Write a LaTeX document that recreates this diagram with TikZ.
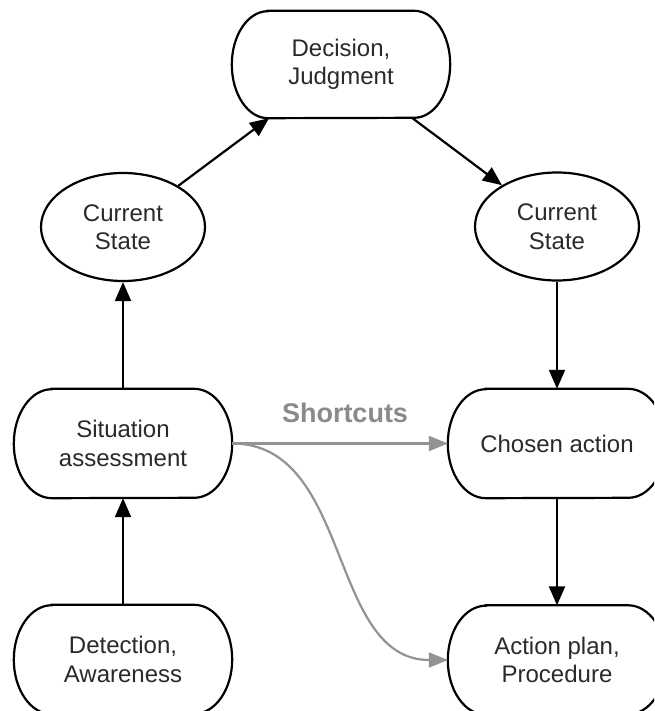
\documentclass[tikz,border=0pt]{standalone}
\usepackage{fontspec}
\setmainfont{Liberation Sans}
\usetikzlibrary{arrows.meta,shapes.geometric}

\definecolor{ink}{HTML}{2A2A2A}
\definecolor{shortgray}{HTML}{939393}
\definecolor{labelgray}{HTML}{8A8A8A}

\tikzset{
  txt/.style={font=\fontsize{24}{28.5}\selectfont, text=ink, align=center, inner sep=0pt},
  pill/.style={txt, rectangle, minimum width=218pt, minimum height=#1},
  state/.style={txt, ellipse, draw=black, line width=2.2pt, minimum width=164pt, minimum height=108pt},
  flow/.style={line width=2.2pt, -{Triangle[length=19pt,width=16pt]}},
  shortcut/.style={draw=shortgray, line width=2.2pt, -{Triangle[length=19pt,width=15pt]}},
  frame/.style={draw=black, line width=2.2pt},
  tag/.style={font=\bfseries\fontsize{27}{32}\selectfont, text=labelgray, inner sep=0pt},
}

% outline of a box with half-elliptic ends: node, end x radius, half height
\newcommand\pillframe[3]{%
  \draw[frame] ([xshift=#2]#1.north west) -- ([xshift=-#2]#1.north east)
    arc[start angle=90, end angle=-90, x radius=#2, y radius=#3]
    -- ([xshift=#2]#1.south west)
    arc[start angle=270, end angle=90, x radius=#2, y radius=#3] -- cycle;}

\begin{document}
\begin{tikzpicture}[x=1pt,y=1pt]
  \useasboundingbox (0,0) rectangle (654,-711);
  \fill[white] (0,0) rectangle (654,-711);
  \clip (0,0) rectangle (654,-711);

  % nodes
  \node[pill=107pt] (dec) at (341,-64.5) {Decision,\\Judgment};
  \node[state] (csL) at (123,-227) {Current\\State};
  \node[state] (csR) at (557,-226.5) {Current\\State};
  \node[pill=109pt] (sit) at (123,-443.5) {Situation\\assessment};
  \node[pill=109pt] (cho) at (557,-443.5) {Chosen action};
  \node[pill=109pt] (det) at (123,-659.5) {Detection,\\Awareness};
  \node[pill=109pt] (ap) at (557,-660) {Action plan,\\Procedure};

  \pillframe{dec}{36pt}{53.5pt}
  \pillframe{sit}{38pt}{54.5pt}
  \pillframe{cho}{38pt}{54.5pt}
  \pillframe{det}{38pt}{54.5pt}
  \pillframe{ap}{38pt}{54.5pt}

  % main flow
  \draw[flow] (det) -- (sit);
  \draw[flow] (sit) -- (csL);
  \draw[flow] (csL) -- (dec);
  \draw[flow] (dec) -- (csR);
  \draw[flow] (csR) -- (cho);
  \draw[flow] (cho) -- (ap);

  % shortcuts
  \draw[shortcut] (sit.east) -- (cho.west);
  \draw[shortcut] (sit.east) .. controls +(120,0) and +(-120,0) .. (ap.west);
  \node[tag, anchor=base] (lbl) at (345,-422.7) {Shortcuts};
\end{tikzpicture}
\end{document}
